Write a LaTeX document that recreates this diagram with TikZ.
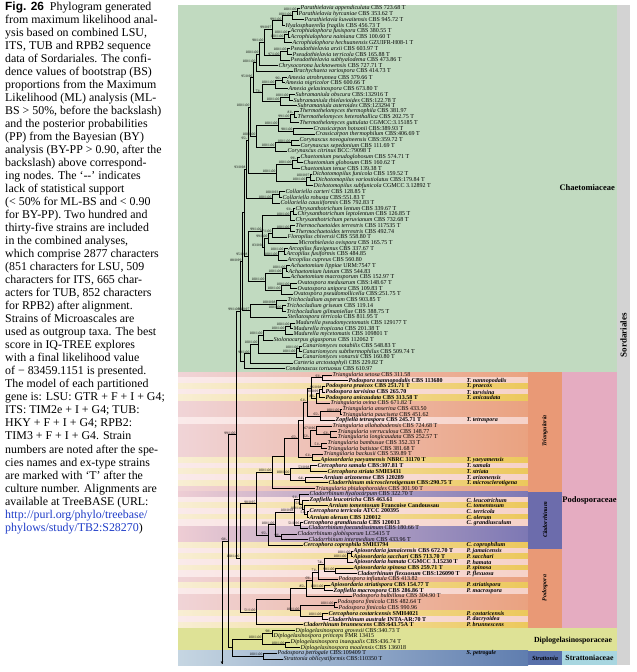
\documentclass[tikz,border=0pt]{standalone}
\usepackage{fontspec}
\setmainfont{Liberation Serif}
\newfontfamily\capsans{Liberation Sans}
\usetikzlibrary{calc, arrows.meta}
\definecolor{chaegreen}{RGB}{193,218,192}
\definecolor{sordgrey}{RGB}{211,211,211}
\definecolor{podopink}{RGB}{229,172,193}
\definecolor{trianorange}{RGB}{233,153,118}
\definecolor{cladblue}{RGB}{108,108,172}
\definecolor{diplogreen}{RGB}{222,226,150}
\definecolor{strattblue}{RGB}{88,112,170}
\definecolor{strattcyan}{RGB}{168,214,224}
\definecolor{pinkL}{RGB}{240,212,215}
\definecolor{pinkR}{RGB}{234,162,128}
\definecolor{cladL}{RGB}{238,205,212}
\definecolor{cladR}{RGB}{125,120,180}
\definecolor{stripeyL}{RGB}{248,238,212}
\definecolor{stripeyR}{RGB}{236,200,92}
\definecolor{stripepL}{RGB}{250,234,234}
\definecolor{stripepR}{RGB}{246,210,200}
\definecolor{strL}{RGB}{198,214,226}
\definecolor{strR}{RGB}{95,125,175}
\definecolor{urlblue}{RGB}{30,60,200}
\tikzstyle{taxon} = [anchor=west, inner sep=0.5pt, font=\fontsize{6}{6}\selectfont]
\tikzstyle{shortname} = [anchor=west, inner sep=0.5pt, font=\fontsize{6}{6}\selectfont\bfseries\itshape]
\tikzstyle{bs} = [anchor=south east, inner sep=0.2pt, xshift=-0.3pt, yshift=0.2pt,
                  font=\fontsize{3.6}{3.6}\selectfont]
\tikzstyle{branch} = [line width=0.9pt, black]
\tikzstyle{capline} = [anchor=base west, inner sep=0pt, font=\fontsize{11.9}{13}\selectfont]
\tikzstyle{family} = [inner sep=0pt, font=\fontsize{8.5}{8.5}\selectfont\bfseries]
\tikzstyle{genus} = [inner sep=0pt, rotate=90, font=\fontsize{6}{6}\selectfont\bfseries\itshape]
\newcommand{\tx}[2]{\textit{#1} #2}
\newcommand{\tb}[2]{\textbf{\textit{#1} #2}}
% internal node of the tree, half way between its first and last child
\newcommand{\jn}[5]{%
  \path let \p1=(#3), \p2=(#4) in (#2pt,{(\y1+\y2)/2}) coordinate (#1);
  \draw[branch] (#1) |- (#3) (#1) |- (#4);
  \node[bs] (#1b) at (#1) {#5};}

\begin{document}
\begin{tikzpicture}[x=1pt, y=-1pt]
\useasboundingbox (0,0) rectangle (637,672);
\fill[white] (0,0) rectangle (637,672);

% caption
\foreach \l [count=\i] in {{{\capsans\bfseries Fig. 26}\ \ Phylogram generated},
  {from maximum likelihood anal-}, {ysis based on combined LSU,},
  {ITS, TUB and RPB2 sequence}, {data of Sordariales. The confi-},
  {dence values of bootstrap (BS)}, {proportions from the Maximum},
  {Likelihood (ML) analysis (ML-}, {BS > 50\%, before the backslash)},
  {and the posterior probabilities}, {(PP) from the Bayesian (BY)},
  {analysis (BY-PP > 0.90, after the}, {backslash) above correspond-},
  {ing nodes. The `{-}{-}' indicates}, {lack of statistical support},
  {(< 50\% for ML-BS and < 0.90}, {for BY-PP). Two hundred and},
  {thirty-five strains are included}, {in the combined analyses,},
  {which comprise 2877 characters}, {(851 characters for LSU, 509},
  {characters for ITS, 665 char-}, {acters for TUB, 852 characters},
  {for RPB2) after alignment.}, {Strains of Microascales are},
  {used as outgroup taxa. The best}, {score in IQ-TREE explores},
  {with a final likelihood value}, {of − 83459.1151 is presented.},
  {The model of each partitioned}, {gene is: LSU: GTR + F + I + G4;},
  {ITS: TIM2e + I + G4; TUB:}, {HKY + F + I + G4; RPB2:},
  {TIM3 + F + I + G4. Strain}, {numbers are noted after the spe-},
  {cies names and ex-type strains}, {are marked with `T' after the},
  {culture number. Alignments are}, {available at TreeBASE (URL:}}
  \node[capline] (cap\i) at (5,{10+13.03*(\i-1)}) {\l};
\node[capline, text=urlblue] (cap40) at (5,{10+13.03*39}) {http://purl.org/phylo/treebase/};
\node[capline] (cap41) at (5,{10+13.03*40}) {\textcolor{urlblue}{phylows/study/TB2:S28270})};

% coloured bands
\fill[chaegreen] (178,4.5) rectangle (617,372);
\shade[left color=pinkL, right color=pinkR] (178,372) rectangle (528,491.5);
\shade[left color=cladL, right color=cladR] (178,491.5) rectangle (528,548.5);
\shade[left color=pinkL, right color=pinkR] (178,548.5) rectangle (528,628);
\foreach \k/\c in {2/p,3/y,4/p,5/y,9/p,16/y,17/p,18/y,19/p,20/y,23/p,24/y,25/p,26/y,27/p,
                   31/y,32/p,33/y,34/p,35/y,36/p,38/y,39/p,43/y,44/p,45/y}{
  \pgfmathsetmacro\sy{375+5.68*(\k-1)}
  \shade[left color=stripe\c L, right color=stripe\c R] (178,{\sy-2.84}) rectangle (528,{\sy+2.84});
}
\fill[trianorange] (528,372) rectangle (562,491.5);
\fill[cladblue] (528,491.5) rectangle (562,548.5);
\fill[trianorange] (528,548.5) rectangle (562,628);
\fill[podopink] (562,372) rectangle (617,628);
\fill[diplogreen] (178,628) rectangle (617,650.5);
\shade[left color=strL, right color=strR] (178,650.5) rectangle (528,665);
\fill[strattblue] (528,650.5) rectangle (562,665);
\fill[strattcyan] (562,650.5) rectangle (617,665);
\fill[sordgrey] (617,4.5) rectangle (630,665);

% Chaetomiaceae leaves
\foreach \a/\b/\c [count=\i] in {
  pa1/300/{\tx{Parathielavia appendiculata}{CBS 723.68 T}},
  pa2/298/{\tx{Parathielavia hyrcaniae}{CBS 353.62 T}},
  pa3/304/{\tx{Parathielavia kuwaitensis}{CBS 945.72 T}},
  hy/285/{\tx{Hyalosphaerella fragilis}{CBS 456.73 T}},
  ac1/290/{\tx{Acrophialophora fusispora}{CBS 380.55 T}},
  ac2/290/{\tx{Acrophialophora nainiana}{CBS 100.60 T}},
  ac3/292/{\tx{Acrophialophora hechuanensis}{GZUIFR-H08-1 T}},
  ps1/290/{\tx{Pseudothielavia arxii}{CBS 603.97 T}},
  ps2/292/{\tx{Pseudothielavia terricola}{CBS 165.88 T}},
  ps3/290/{\tx{Pseudothielavia subhyalodema}{CBS 473.86 T}},
  ch/278/{\tx{Chrysocorona lucknowensis}{CBS 727.71 T}},
  br/293/{\tx{Brachychaeta variospora}{CBS 414.73 T}},
  am1/287/{\tx{Amesia atrobrunnea}{CBS 379.66 T}},
  am2/285/{\tx{Amesia nigricolor}{CBS 600.66 T}},
  am3/288/{\tx{Amesia gelasinospora}{CBS 673.80 T}},
  su1/295/{\tx{Subramaniula obscura}{CBS:132916 T}},
  su2/293/{\tx{Subramaniula thielavioides}{CBS:122.78 T}},
  su3/297/{\tx{Subramaniula asteroides}{CBS:123294 T}},
  th1/299/{\tx{Thermothelomyces thermophila}{CBS 381.97}},
  th2/297/{\tx{Thermothelomyces heterothallica}{CBS 202.75 T}},
  th3/299/{\tx{Thermothelomyces guttulata}{CGMCC:3.15185 T}},
  cr1/313/{\tx{Crassicarpon hotsonii}{CBS:389.93 T}},
  cr2/315/{\tx{Crassicarpon thermophilum}{CBS:406.69 T}},
  co1/299/{\tx{Corynascus novoguineensis}{CBS:359.72 T}},
  co2/300/{\tx{Corynascus sepedonium}{CBS 111.69 T}},
  co3/287/{\tx{Corynascus citrinus}{BCC:79098 T}},
  cg1/300/{\tx{Chaetomium pseudoglobosum}{CBS 574.71 T}},
  cg2/303/{\tx{Chaetomium globosum}{CBS 160.62 T}},
  cg3/300/{\tx{Chaetomium tenue}{CBS 139.38 T}},
  di1/312/{\tx{Dichotomopilus funicola}{CBS 159.52 T}},
  di2/315/{\tx{Dichotomopilus variostiolatus}{CBS:179.84 T}},
  di3/313/{\tx{Dichotomopilus subfunicola}{CGMCC 3.12892 T}},
  cl1/285/{\tx{Collariella carteri}{CBS 128.85 T}},
  cl2/282/{\tx{Collariella robusta}{CBS:551.83 T}},
  cl3/280/{\tx{Collariella causiiformis}{CBS 792.83 T}},
  cy1/295/{\tx{Chrysanthotrichum lentum}{CBS 339.67 T}},
  cy2/297/{\tx{Chrysanthotrichum leptolentum}{CBS 126.85 T}},
  cy3/295/{\tx{Chrysanthotrichum peruvianum}{CBS 732.68 T}},
  tc1/295/{\tx{Thermochaetoides terrestris}{CBS 117535 T}},
  tc2/295/{\tx{Thermochaetoides terrestris}{CBS 492.74}},
  fl/287/{\tx{Floropilus chiversii}{CBS 558.80 T}},
  mi/298/{\tx{Microthielavia ovispora}{CBS 165.75 T}},
  ar1/288/{\tx{Arcopilus flavigenus}{CBS 337.67 T}},
  ar2/286/{\tx{Arcopilus fusiformis}{CBS 484.85}},
  ar3/287/{\tx{Arcopilus cupreus}{CBS 560.80}},
  ah1/290/{\tx{Achaetomium lippiae}{URM:7547 T}},
  ah2/288/{\tx{Achaetomium luteum}{CBS 544.83}},
  ah3/290/{\tx{Achaetomium macrosporum}{CBS 152.97 T}},
  ov1/297/{\tx{Ovatospora medusarum}{CBS:148.67 T}},
  ov2/297/{\tx{Ovatospora unipora}{CBS 109.83 T}},
  ov3/293/{\tx{Ovatospora pseudomollicella}{CBS:251.75 T}},
  tr1/287/{\tx{Trichocladium asperum}{CBS 903.85 T}},
  tr2/286/{\tx{Trichocladium griseum}{CBS 119.14}},
  tr3/286/{\tx{Trichocladium gilmaniellae}{CBS 388.75 T}},
  st/287/{\tx{Stellatospora terricola}{CBS 811.95 T}},
  ma1/295/{\tx{Madurella pseudomycetomatis}{CBS 129177 T}},
  ma2/293/{\tx{Madurella tropicana}{CBS 201.38 T}},
  ma3/293/{\tx{Madurella mycetomatis}{CBS 109801 T}},
  sl/273/{\tx{Stolonocarpus gigasporus}{CBS 112062 T}},
  ca1/302/{\tx{Canariomyces notabilis}{CBS 548.83 T}},
  ca2/302/{\tx{Canariomyces subthermophilus}{CBS 509.74 T}},
  ca3/302/{\tx{Canariomyces vonarxii}{CBS 160.80 T}},
  ct/293/{\tx{Carteria arctostaphyli}{CBS 229.82 T}},
  cn/285/{\tx{Condenascus tortuosus}{CBS 610.97}}}{
  \pgfmathsetmacro\ly{8.5+5.72*(\i-1)}
  \coordinate (\a) at (\b,\ly);
  \node[taxon] (\a t) at (\a) {\c};
}

% Podosporaceae, Diplogelasinosporaceae, Strattoniaceae leaves
\foreach \a/\b/\c [count=\i] in {
  p01/332/{\tx{Triangularia setosa}{CBS 311.58}},
  p02/348/{\tb{Podospora nannopodalis}{CBS 113680}},
  p03/325/{\tb{Podospora praecox}{CBS 251.71 T}},
  p04/325/{\tb{Podospora tarvisina}{CBS 265.70}},
  p05/325/{\tb{Podospora anicaudata}{CBS 313.58 T}},
  p06/330/{\tx{Triangularia ovina}{CBS 671.82 T}},
  p07/342/{\tx{Triangularia anserina}{CBS 433.50}},
  p08/342/{\tx{Triangularia pauciseta}{CBS 451.62}},
  p09/335/{\tb{Zopfiella tetraspora}{CBS 245.71 T}},
  p10/332/{\tx{Triangularia allahabadensis}{CBS 724.68 T}},
  p11/337/{\tx{Triangularia verruculosa}{CBS 148.77}},
  p12/337/{\tx{Triangularia longicaudata}{CBS 252.57 T}},
  p13/327/{\tx{Triangularia bambusae}{CBS 352.33 T}},
  p14/327/{\tx{Triangularia batistae}{CBS 381.68 T}},
  p15/323/{\tx{Triangularia backusii}{CBS 539.89 T}},
  p16/320/{\tb{Apiosordaria yaeyamensis}{NBRC 31170 T}},
  p17/317/{\tb{Cercophora samala}{CBS:307.81 T}},
  p18/327/{\tb{Cercophora striata}{SMH3431}},
  p19/323/{\tb{Arnium arizonense}{CBS 120289}},
  p20/328/{\tb{Cladorrhinum microsclerotigenum}{CBS:290.75 T}},
  p21/315/{\tx{Triangularia phialophoroides}{CBS 301.90 T}},
  p22/309/{\tx{Cladorrhinum hyalocarpum}{CBS 322.70 T}},
  p23/309/{\tb{Zopfiella leucotricha}{CBS 463.61}},
  p24/328/{\tb{Arnium tomentosum}{Francoise Candoussau}},
  p25/309/{\tb{Cercophora terricola}{ATCC 200395}},
  p26/309/{\tb{Arnium olerum}{CBS 120012}},
  p27/303/{\tb{Cercophora grandiuscula}{CBS 120013}},
  p28/308/{\tx{Cladorrhinum foecundissimum}{CBS 180.66 T}},
  p29/297/{\tx{Cladorrhinum globisporum}{LC5415 T}},
  p30/308/{\tx{Cladorrhinum intermedium}{CBS 433.96 T}},
  p31/303/{\tb{Cercophora coprophila}{SMH3794}},
  p32/353/{\tb{Apiosordaria jamaicensis}{CBS 672.70 T}},
  p33/353/{\tb{Apiosordaria sacchari}{CBS 713.70 T}},
  p34/353/{\tb{Apiosordaria hamata}{CGMCC 3.15230 T}},
  p35/353/{\tb{Apiosordaria spinosa}{CBS 259.71 T}},
  p36/357/{\tb{Cladorrhinum flexuosum}{CBS:126090 T}},
  p37/338/{\tx{Podospora inflatula}{CBS 413.82}},
  p38/330/{\tb{Apiosordaria striatispora}{CBS 154.77 T}},
  p39/333/{\tb{Zopfiella macrospora}{CBS 286.86 T}},
  p40/352/{\tx{Podospora bulbillosa}{CBS 304.90 T}},
  p41/337/{\tx{Podospora fimicola}{CBS 482.64 T}},
  p42/338/{\tx{Podospora fimicola}{CBS 990.96}},
  p43/328/{\tb{Cercophora costaricensis}{SMH4021}},
  p44/328/{\tb{Cladorrhinum australe}{INTA-AR:70 T}},
  p45/303/{\tb{Cladorrhinum brunnescens}{CBS:643.75A T}},
  dg1/295/{\tx{Diplogelasinospora grovesii}{CBS:340.73 T}},
  dg2/273/{\tx{Diplogelasinospora princeps}{FMR 13415}},
  dg3/290/{\tx{Diplogelasinospora inaequalis}{CBS:436.74 T}},
  dg4/300/{\tx{Diplogelasinospora moalensis}{CBS 136018}},
  sp1/277/{\tx{Podospora petrogale}{CBS:109409 T}},
  sp2/283/{\tx{Strattonia oblicystiformis}{CBS:110350 T}}}{
  \pgfmathsetmacro\ly{375+5.68*(\i-1)}
  \coordinate (\a) at (\b,\ly);
  \node[taxon] (\a t) at (\a) {\c};
}

% Chaetomiaceae tree
\jn{nA}{297}{pa1}{pa2}{100/1.00}
\jn{nB}{292}{nA}{pa3}{100/1.00}
\jn{nC}{282}{nB}{hy}{99/1.00}
\jn{nD}{288}{ac1}{ac2}{100/1.00}
\jn{nE}{284}{nD}{ac3}{100/1.00}
\jn{nF}{272}{nC}{nE}{99/0.97}
\jn{nG}{287}{ps1}{ps2}{100/1.00}
\jn{nH}{280}{nG}{ps3}{97/1.00}
\jn{nI}{264}{nF}{nH}{98/1.00}
\jn{nJ}{259}{nI}{ch}{100/1.00}
\jn{nK}{256}{nJ}{br}{100/1.00}
\jn{nL}{282}{am1}{am2}{96/-}
\jn{nM}{275}{nL}{am3}{100/1.00}
\jn{nN}{289}{su1}{su2}{100/1.00}
\jn{nO}{280}{nN}{su3}{100/1.00}
\jn{nP}{262}{nM}{nO}{73/-}
\jn{nQ}{253}{nK}{nP}{95/0.96}
\jn{nR}{294}{th1}{th2}{81/-}
\jn{nS}{290}{nR}{th3}{99/1.00}
\jn{nT}{293}{cr1}{cr2}{98/1.00}
\jn{nU}{278}{nS}{nT}{100/1.00}
\jn{nV}{291}{co1}{co2}{100/1.00}
\jn{nW}{275}{nV}{co3}{100/1.00}
\jn{nX}{256}{nU}{nW}{100/1.00}
\jn{b1}{250}{nQ}{nX}{100/1.00}
\jn{nY}{297}{cg1}{cg2}{99/-}
\jn{nZ}{292}{nY}{cg3}{100/1.00}
\jn{d1}{310}{di1}{di2}{100/0.97}
\jn{d2}{306}{d1}{di3}{100/1.00}
\jn{d3}{276}{nZ}{d2}{100/1.00}
\jn{b2}{248}{b1}{d3}{95/-}
\jn{e1}{279}{cl1}{cl2}{100/0.93}
\jn{e2}{272}{e1}{cl3}{100/1.00}
\jn{b3}{246}{b2}{e2}{93/0.98}
\jn{f1}{293}{cy1}{cy2}{93/-}
\jn{f2}{290}{f1}{cy3}{100/1.00}
\jn{g1}{290}{tc1}{tc2}{100/1.00}
\jn{g2}{272}{g1}{fl}{87/1.00}
\jn{g3}{268}{g2}{mi}{99/1.00}
\jn{h1}{284}{ar1}{ar2}{100/1.00}
\jn{h2}{278}{h1}{ar3}{100/1.00}
\jn{h3}{264}{g3}{h2}{83/0.98}
\jn{b4}{262}{f2}{h3}{99/1.00}
\jn{i1}{286}{ah1}{ah2}{100/1.00}
\jn{i2}{282}{i1}{ah3}{100/1.00}
\jn{j1}{290}{ov1}{ov2}{100/1.00}
\jn{j2}{281}{j1}{ov3}{100/1.00}
\jn{j3}{265}{i2}{j2}{100/1.00}
\jn{b5}{248}{b4}{j3}{95/0.98}
\jn{b6}{244}{b3}{b5}{}
\jn{k1}{282}{tr2}{tr3}{100/1.00}
\jn{k2}{276}{tr1}{k1}{100/0.98}
\jn{k3}{250}{k2}{st}{94/0.97}
\jn{b7}{242}{b6}{k3}{88/0.99}
\jn{m1}{290}{ma1}{ma2}{100/1.00}
\jn{m2}{285}{m1}{ma3}{100/1.00}
\jn{m3}{263}{m2}{sl}{100/1.00}
\jn{c1}{299}{ca1}{ca2}{100/1.00}
\jn{c2}{296}{c1}{ca3}{100/1.00}
\jn{c3}{258}{m3}{c2}{100/1.00}
\jn{c4}{250}{c3}{ct}{99/1.00}
\jn{c5}{244}{c4}{cn}{}
\jn{b8}{240}{b7}{c5}{99/1.00}

% Podosporaceae tree
\jn{t1}{322}{p03}{p04}{96/0.98}
\jn{t2}{319}{t1}{p05}{90/0.99}
\jn{t3}{316}{t2}{p06}{80/-}
\jn{t4}{322}{p01}{p02}{93/-}
\jn{t5}{311}{t4}{t3}{}
\jn{t6}{340}{p07}{p08}{100/1.00}
\jn{t7}{320}{t6}{p09}{65/-}
\jn{t8}{307}{t5}{t7}{61/-}
\jn{t9}{330}{p11}{p12}{63/-}
\jn{t10}{316}{p10}{t9}{67/0.96}
\jn{t11}{321}{p13}{p14}{51/-}
\jn{t12}{310}{t10}{t11}{62/-}
\jn{t13}{303}{t8}{t12}{}
\jn{t14}{312}{p15}{p16}{61/-}
\jn{t15}{298}{t13}{t14}{65/-}
\jn{t16}{310}{p17}{p18}{53/0.98}
\jn{t17}{305}{p19}{p20}{64/-}
\jn{t18}{290}{t16}{t17}{100/1.00}
\jn{t19}{284}{t15}{t18}{}
\jn{t20}{272}{t19}{p21}{100/1.00}
\jn{u1}{307}{p25}{p26}{51/-}
\jn{u2}{304}{p24}{u1}{100/1.00}
\jn{u3}{302}{p23}{u2}{53/-}
\jn{u4}{299}{p22}{u3}{91/-}
\jn{u5}{300}{p27}{p28}{51/0.96}
\jn{u6}{294}{u4}{u5}{100/0.98}
\jn{u7}{281}{p29}{p30}{98/-}
\jn{u8}{275}{u6}{u7}{100/1.00}
\jn{u9}{268}{u8}{p31}{95/-}
\jn{v1}{256}{t20}{u9}{98/0.95}
\jn{w1}{351}{p32}{p33}{100/1.00}
\jn{w2}{347}{w1}{p34}{100/1.00}
\jn{w3}{335}{p35}{p36}{98/1.00}
\jn{w4}{324}{w2}{w3}{74/-}
\jn{w5}{318}{w4}{p37}{71/-}
\jn{w6}{324}{p38}{p39}{100/1.00}
\jn{w7}{312}{w5}{w6}{69/-}
\jn{w8}{306}{w7}{p40}{85/-}
\jn{w9}{334}{p41}{p42}{100/1.00}
\jn{w10}{322}{p43}{p44}{100/1.00}
\jn{w11}{300}{w9}{w10}{100/1.00}
\jn{w12}{290}{w8}{w11}{}
\jn{w13}{256}{w12}{p45}{51/1.00}
\jn{P}{240}{v1}{w13}{100/1.00}
\jn{N2}{236}{b8}{P}{99/1.00}

% Diplogelasinosporaceae, Strattoniaceae and root
\jn{D1}{272}{dg1}{dg2}{98/-}
\jn{D2}{285}{dg3}{dg4}{100/1.00}
\jn{D3}{262}{D1}{D2}{100/1.00}
\jn{S1}{263}{sp1}{sp2}{100/1.00}
\jn{D}{232}{D3}{S1}{}
\jn{N1}{228}{N2}{D}{68/-}
\coordinate (out) at (222,664);
\jn{R}{222}{N1}{out}{}
\draw[branch, -{Stealth[length=3pt, width=2.4pt]}] (R) -- (out);

% right hand names
\foreach \k/\s in {2/T. nannopodalis, 3/T. praecox, 4/T. tarvisina, 5/T. anicaudata,
  9/T. tetraspora, 16/T. yaeyamensis, 17/T. samala, 18/T. striata, 19/T. arizonensis,
  20/T. microsclerotigena, 23/C. leucotrichum, 24/C. tomentosum, 25/C. terricola,
  26/C. olerum, 27/C. grandiusculum, 31/C. coprophilum, 32/P. jamaicensis,
  33/P. sacchari, 34/P. hamata, 35/P. spinosa, 36/P. flexuosa, 38/P. striatispora,
  39/P. macrospora, 43/P. costaricensis, 44/P. dacryoidea, 45/P. brunnescens,
  50/S. petrogale}
  \node[shortname] (sn\k) at (466,{375+5.68*(\k-1)}) {\s};

\node[genus] (gTri) at (545,431) {Triangularia};
\node[genus] (gCla) at (545,520) {Cladorrhinum};
\node[genus] (gPod) at (545,588) {Podospora};
\node[family, anchor=east] (fChae) at (615,188) {Chaetomiaceae};
\node[family] (fPodo) at (589.5,500) {Podosporaceae};
\node[family, font=\fontsize{7.8}{7.8}\selectfont\bfseries] (fDipl) at (573,640.5) {Diplogelasinosporaceae};
\node[family, font=\fontsize{7.8}{7.8}\selectfont\bfseries] (fStra) at (589.5,658) {Strattoniaceae};
\node[genus, rotate=-90, font=\fontsize{6.3}{6.3}\selectfont\bfseries\itshape] (gStra) at (545,658) {Strattonia};
\node[family, rotate=90, font=\fontsize{9}{9}\selectfont\bfseries] (oSord) at (623.5,335) {Sordariales};
\end{tikzpicture}
\end{document}
